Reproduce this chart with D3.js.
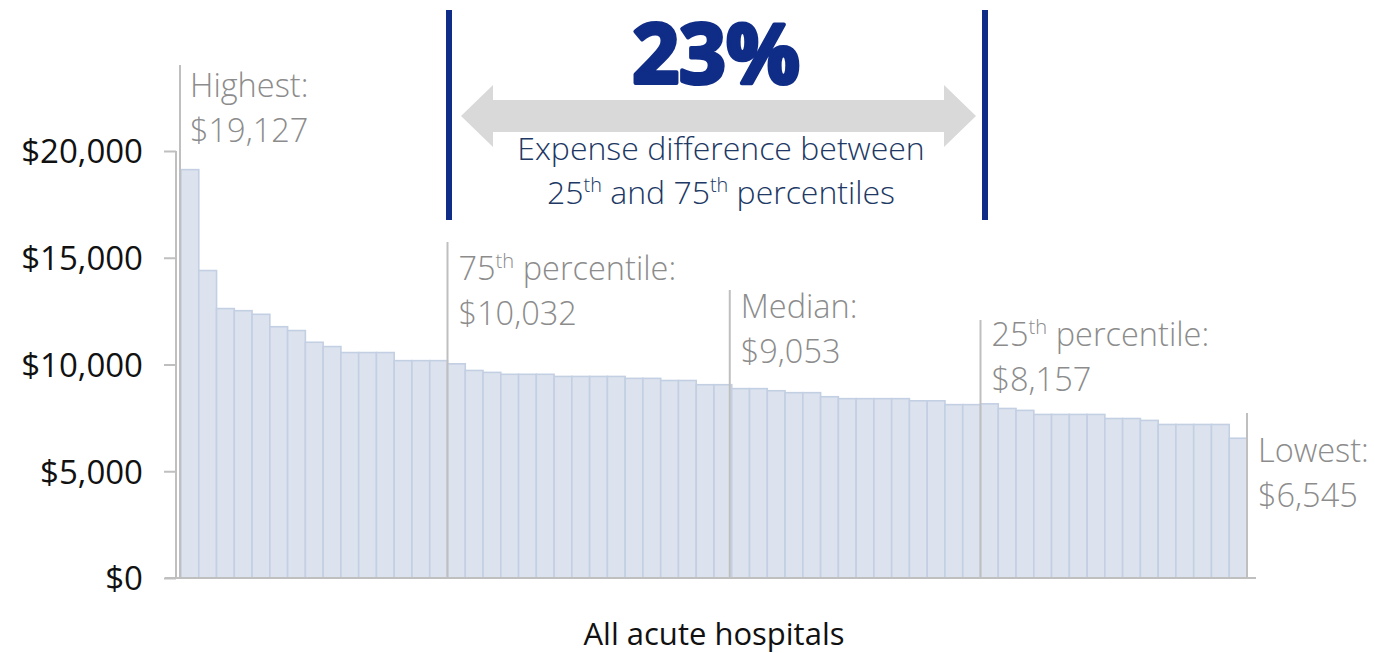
<!DOCTYPE html>
<html>
<head>
<meta charset="utf-8">
<script src="https://cdn.jsdelivr.net/npm/d3@7"></script>
<style>
  body { margin: 0; background: #fff; }
  svg { display: block; }
  text { font-family: "Open Sans", "Noto Sans", sans-serif; }
</style>
</head>
<body>
<svg width="1375" height="653"></svg>
<script>
var svg = d3.select('svg')

// expense per hospital, sorted high to low
var expenses = [
	19127, 14400, 12620, 12520, 12350, 11770, 11590, 11040, 10840, 10560,
	10560, 10560, 10180, 10180, 10180, 10032, 9720, 9630, 9540, 9540,
	9540, 9440, 9440, 9440, 9440, 9350, 9350, 9250, 9250, 9053,
	9053, 8870, 8870, 8770, 8680, 8680, 8490, 8400, 8400, 8400,
	8400, 8300, 8300, 8120, 8120, 8157, 7940, 7850, 7660, 7660,
	7660, 7660, 7470, 7470, 7380, 7190, 7190, 7190, 7190, 6545
]
var yTicks = [0, 5000, 10000, 15000, 20000]

// markers: bar edge index, label lines
var markerEdge = [0, 15, 31, 45, 60]
var markerTitle = ["Highest:", "75|th| percentile:", "Median:", "25|th| percentile:", "Lowest:"]
var markerValue = ["$19,127", "$10,032", "$9,053", "$8,157", "$6,545"]
var markerTop = [65, 242, 290, 320, 413]
var markerLabelY = [97, 280, 318, 346, 462]

var spreadPct = "23%"
var spreadLines = ["Expense difference between", "25|th| and 75|th| percentiles"]
var xTitle = "All acute hospitals"

var gray = "#8c8c8c"
var navy = "#0f2c87"
var axisColor = "#bfbfbf"

var x = d3.scaleBand()
	.domain(d3.range(expenses.length))
	.range([181, 1247])
	.padding(0)

var y = d3.scaleLinear()
	.domain([0, 20000])
	.range([578, 151])

function edgeX(i) {
	return x.range()[0] + i * x.step()
}

// write text with |sup| parts raised
function richText(sel, str, size) {
	var parts = str.split('|')
	parts.forEach(function(p, i) {
		if(!p) return
		var t = sel.append('tspan').text(p)
		if(i % 2 == 1) {
			t.attr('font-size', size * 0.62).attr('dy', -size * 0.38)
		} else if(i > 0) {
			t.attr('dy', size * 0.38)
		}
	})
}

// bars
svg.append('g')
	.selectAll('rect')
	.data(expenses)
	.enter()
	.append('rect')
	.attr('x', function(d, i) { return x(i) })
	.attr('y', function(d) { return y(d) })
	.attr('width', x.bandwidth())
	.attr('height', function(d) { return y(0) - y(d) })
	.attr('fill', '#dde3ee')
	.attr('stroke', '#c3cfe3')
	.attr('stroke-width', 1.6)

// y axis
var yAxis = svg.append('g')
	.attr('transform', 'translate(176,0)')
	.call(d3.axisLeft(y).tickValues(yTicks).tickSize(12).tickPadding(21)
		.tickFormat(function(d) { return '$' + d3.format(',')(d) }))
yAxis.select('.domain').attr('stroke', axisColor).attr('stroke-width', 2)
	.attr('d', 'M0,' + y(20000) + 'V' + y(0))
yAxis.selectAll('.tick line').attr('stroke', axisColor).attr('stroke-width', 2)
yAxis.selectAll('.tick text')
	.attr('font-size', 33)
	.attr('font-weight', 400)
	.attr('fill', '#111')
	.attr('font-family', '"Open Sans", sans-serif')
	.attr('dy', '0.36em')

// x axis line
svg.append('line')
	.attr('x1', 165).attr('x2', 1256)
	.attr('y1', y(0)).attr('y2', y(0))
	.attr('stroke', axisColor).attr('stroke-width', 2)

svg.append('text')
	.attr('x', 714).attr('y', 645)
	.attr('text-anchor', 'middle')
	.attr('font-size', 31)
	.attr('font-weight', 400)
	.attr('fill', '#111')
	.text(xTitle)

// marker lines and labels
markerEdge.forEach(function(e, i) {
	var mx = edgeX(e) - (i == 0 ? 1 : 0) - (i == 2 ? 2 : 0)
	svg.append('line')
		.attr('x1', mx).attr('x2', mx)
		.attr('y1', markerTop[i]).attr('y2', y(0))
		.attr('stroke', axisColor).attr('stroke-width', 2)
	var tx = mx + (i == 0 ? 10 : 11)
	var t1 = svg.append('text')
		.attr('x', tx).attr('y', markerLabelY[i])
		.attr('font-size', 32.5).attr('font-weight', 300).attr('fill', gray)
	richText(t1, markerTitle[i], 32.5)
	svg.append('text')
		.attr('x', tx).attr('y', markerLabelY[i] + 45)
		.attr('font-size', 32.5).attr('font-weight', 300).attr('fill', gray)
		.text(markerValue[i])
})

// spread callout between the 25th and 75th lines
var leftX = 449, rightX = 985
svg.append('rect').attr('x', leftX - 3).attr('y', 10).attr('width', 6).attr('height', 210).attr('fill', navy)
svg.append('rect').attr('x', rightX - 3).attr('y', 10).attr('width', 6).attr('height', 210).attr('fill', navy)

var ax1 = 461, ax2 = 976, ay = 116, head = 32, shaft = 16, hh = 31
svg.append('path')
	.attr('d', 'M' + ax1 + ',' + ay +
		'L' + (ax1 + head) + ',' + (ay - hh) +
		'V' + (ay - shaft) +
		'H' + (ax2 - head) +
		'V' + (ay - hh) +
		'L' + ax2 + ',' + ay +
		'L' + (ax2 - head) + ',' + (ay + hh) +
		'V' + (ay + shaft) +
		'H' + (ax1 + head) +
		'V' + (ay + hh) + 'Z')
	.attr('fill', '#d9d9d9')

// white box behind the caption
svg.append('rect')
	.attr('x', 500).attr('y', 134).attr('width', 440).attr('height', 80)
	.attr('fill', '#fff')

svg.append('text')
	.attr('x', 716).attr('y', 83)
	.attr('text-anchor', 'middle')
	.attr('font-family', '"Liberation Sans", Arial, sans-serif')
	.attr('font-weight', 'bold')
	.attr('font-size', 82)
	.attr('fill', navy)
	.attr('stroke', navy)
	.attr('stroke-width', 4)
	.attr('stroke-linejoin', 'round')
	.text(spreadPct)

spreadLines.forEach(function(l, i) {
	var t = svg.append('text')
		.attr('x', 721).attr('y', 160 + i * 44)
		.attr('text-anchor', 'middle')
		.attr('font-size', 32)
		.attr('font-weight', 300)
		.attr('fill', '#203864')
	richText(t, l, 32)
})
</script>
</body>
</html>
